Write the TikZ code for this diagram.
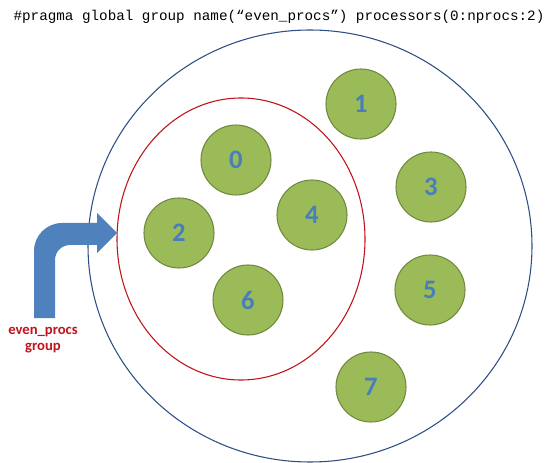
\documentclass[tikz,border=0pt]{standalone}
\usepackage{fontspec}
\setmainfont{Carlito}
\newfontfamily\codefont{Liberation Mono}
\definecolor{procgreen}{HTML}{9BBB59}
\definecolor{procedge}{HTML}{71893F}
\definecolor{procblue}{HTML}{4A7EBB}
\definecolor{worldblue}{HTML}{2E4E86}
\definecolor{groupred}{HTML}{C0121A}
\definecolor{arrowblue}{HTML}{4F81BD}
\tikzset{
  proc/.style    = {shape=circle, draw=procedge, thick, fill=procgreen,
                    minimum size=52.5pt, inner sep=0pt,
                    font=\fontsize{20}{20}\selectfont\bfseries, text=procblue},
  world/.style   = {draw=worldblue, thick},
  group/.style   = {draw=groupred, thick},
  grouplbl/.style= {font=\fontsize{11}{12.5}\selectfont\bfseries,
                    text=groupred, align=center},
  pragma/.style  = {font=\codefont\fontsize{10.7}{12}\selectfont}
}

\begin{document}
\begin{tikzpicture}[x=0.75pt,y=-0.75pt]
  \useasboundingbox (0,0) rectangle (546,463);
  \node [pragma] (title) at (279,17)
    {\#pragma global group name(“even\_procs”) processors(0:nprocs:2)};
  % processor sets
  \draw [world] (310,246) ellipse [x radius=222, y radius=216];
  \draw [group] (241,239) ellipse [x radius=124, y radius=141];
  % processors
  \node [proc] (p0) at (236,160) {0};
  \node [proc] (p1) at (361,104) {1};
  \node [proc] (p2) at (179,233) {2};
  \node [proc] (p3) at (431,187) {3};
  \node [proc] (p4) at (312,215) {4};
  \node [proc] (p5) at (430,290) {5};
  \node [proc] (p6) at (248,300) {6};
  \node [proc] (p7) at (371,387) {7};
  % bent arrow pointing at the group
  \fill [arrowblue] (34,318) -- (34,251) arc (180:270:28) -- (97,223)
    -- (97,213) -- (117,233) -- (97,253) -- (97,245) -- (70,245)
    arc (270:180:15) -- (55,318) -- cycle;
  \node [grouplbl] (lbl) at (43,340) {even\_procs\\group};
\end{tikzpicture}
\end{document}
